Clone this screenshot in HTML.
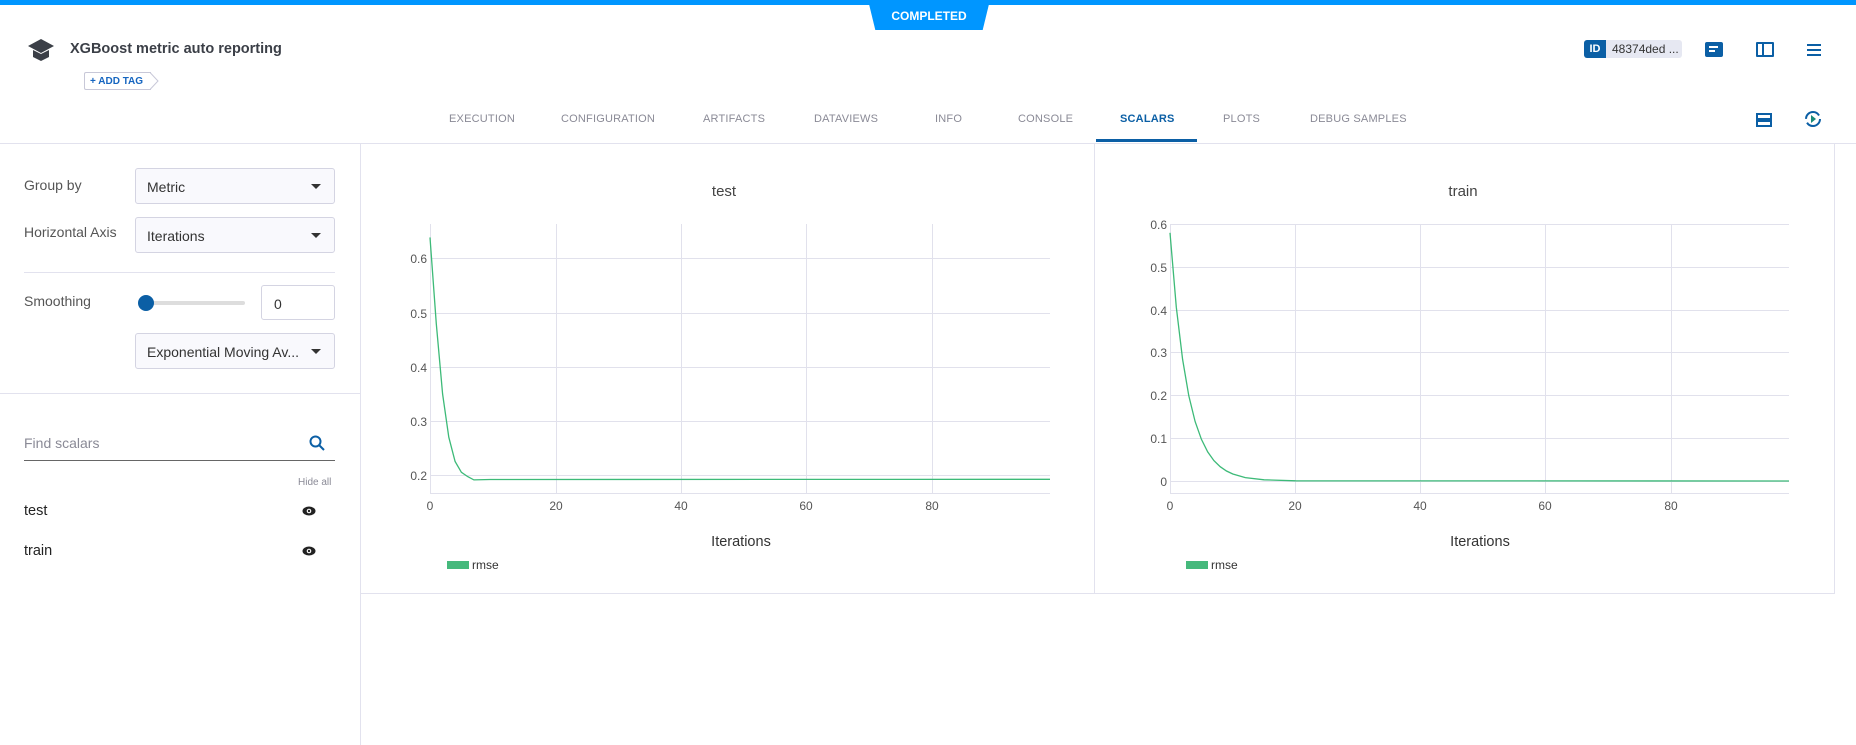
<!DOCTYPE html>
<html><head><meta charset="utf-8"><style>
*{margin:0;padding:0;box-sizing:border-box}
body{width:1856px;height:745px;overflow:hidden;background:#fff;font-family:"Liberation Sans",sans-serif;position:relative;color:#333}
.a{position:absolute}
.tab{position:absolute;top:113px;font-size:11px;color:#8a8a96;letter-spacing:.2px}
.sel{position:absolute;left:135px;width:200px;height:36px;border:1px solid #d4d4e2;border-radius:3px;background:#f9f9fd;font-size:14px;color:#333;padding:10px 0 0 11px}
.sel:after{content:"";position:absolute;right:13px;top:15px;border-left:5px solid transparent;border-right:5px solid transparent;border-top:5px solid #333}
.lbl{position:absolute;left:24px;font-size:14px;color:#555}
</style></head><body>
<div class="a" style="left:0;top:0;width:1856px;height:5px;background:#0096ff"></div>
<div class="a" style="left:868px;top:0;width:122px;height:30px;background:#0096ff;clip-path:polygon(0 0,100% 0,94% 100%,6% 100%);color:#fff;font-size:12px;font-weight:bold;text-align:center;line-height:32px">COMPLETED</div>
<svg class="a" style="left:27px;top:38px" width="28" height="24" viewBox="0 0 28 24"><polygon points="14,1 27,8 14,15 1,8" fill="#3b3f47"/><path d="M6 12 L6 19 L14 23 L22 19 L22 12 L14 16 Z" fill="#3b3f47"/></svg>
<div class="a" style="left:70px;top:41px;font-size:14.5px;font-weight:bold;color:#3b3f47">XGBoost metric auto reporting</div>
<div class="a" style="left:84px;top:72px;width:67px;height:18px;border:1px solid #c8c8d8;border-right:none;border-radius:2px 0 0 2px;font-size:10px;font-weight:bold;color:#1565c0;padding:3px 0 0 5px">+ ADD TAG</div>
<svg class="a" style="left:150px;top:72px" width="9" height="18"><polyline points="0,0.5 8,9 0,17.5" fill="none" stroke="#c8c8d8"/></svg>
<div class="a" style="left:1584px;top:40px;width:98px;height:18px;background:#e6e8f2;border-radius:3px"></div>
<div class="a" style="left:1584px;top:40px;width:22px;height:18px;background:#0b5fa5;border-radius:3px 0 0 3px;color:#fff;font-size:11px;font-weight:bold;text-align:center;line-height:18px">ID</div>
<div class="a" style="left:1612px;top:42px;font-size:12px;color:#333">48374ded ...</div>
<div class="a" style="left:1705px;top:42px;width:18px;height:15px;background:#0b5fa5;border-radius:2px"></div>
<div class="a" style="left:1709px;top:46px;width:9px;height:2px;background:#fff"></div>
<div class="a" style="left:1709px;top:50px;width:6px;height:2px;background:#fff"></div>
<div class="a" style="left:1756px;top:42px;width:18px;height:15px;border:2px solid #0b5fa5;border-radius:1px"></div>
<div class="a" style="left:1762px;top:42px;width:2px;height:15px;background:#0b5fa5"></div>
<div class="a" style="left:1807px;top:44px;width:14px;height:2px;background:#0b5fa5;box-shadow:0 5px 0 #0b5fa5,0 10px 0 #0b5fa5"></div>
<div class="tab" style="left:449px">EXECUTION</div>
<div class="tab" style="left:561px">CONFIGURATION</div>
<div class="tab" style="left:703px">ARTIFACTS</div>
<div class="tab" style="left:814px">DATAVIEWS</div>
<div class="tab" style="left:935px">INFO</div>
<div class="tab" style="left:1018px">CONSOLE</div>
<div class="tab" style="left:1120px;color:#0b5fa5;font-weight:bold">SCALARS</div>
<div class="tab" style="left:1223px">PLOTS</div>
<div class="tab" style="left:1310px">DEBUG SAMPLES</div>
<div class="a" style="left:1096px;top:139px;width:101px;height:3px;background:#0b5fa5"></div>
<div class="a" style="left:1756px;top:113px;width:16px;height:14px;border:2px solid #0b5fa5"></div>
<div class="a" style="left:1756px;top:118px;width:16px;height:4px;border-top:2px solid #0b5fa5;border-bottom:2px solid #0b5fa5"></div>
<svg class="a" style="left:1804px;top:110px" width="18" height="18"><circle cx="9" cy="9" r="7" fill="none" stroke="#0b5fa5" stroke-width="2" stroke-dasharray="18 4"/><polygon points="7,5 12,9 7,13" fill="#1a8a7a"/></svg>
<div class="a" style="left:0;top:143px;width:1856px;height:1px;background:#e2e2ee"></div>
<div class="a" style="left:360px;top:143px;width:1px;height:602px;background:#e2e2ee"></div>
<div class="lbl" style="top:177px">Group by</div>
<div class="sel" style="top:168px">Metric</div>
<div class="lbl" style="top:224px">Horizontal Axis</div>
<div class="sel" style="top:217px">Iterations</div>
<div class="a" style="left:24px;top:272px;width:311px;height:1px;background:#e2e2ee"></div>
<div class="lbl" style="top:293px">Smoothing</div>
<div class="a" style="left:140px;top:301px;width:105px;height:4px;background:#ddd;border-radius:2px"></div>
<div class="a" style="left:138px;top:295px;width:16px;height:16px;background:#0b5fa5;border-radius:50%"></div>
<div class="a" style="left:261px;top:285px;width:74px;height:35px;border:1px solid #d4d4e2;border-radius:3px;font-size:14px;padding:10px 0 0 12px">0</div>
<div class="sel" style="top:333px">Exponential Moving Av...</div>
<div class="a" style="left:0;top:393px;width:360px;height:1px;background:#e2e2ee"></div>
<div class="a" style="left:24px;top:435px;font-size:14px;color:#8a8a96">Find scalars</div>
<svg class="a" style="left:309px;top:435px" width="16" height="16"><circle cx="6.5" cy="6.5" r="5" fill="none" stroke="#0b5fa5" stroke-width="2"/><line x1="10" y1="10" x2="15" y2="15" stroke="#0b5fa5" stroke-width="2"/></svg>
<div class="a" style="left:24px;top:460px;width:311px;height:1px;background:#666"></div>
<div class="a" style="left:298px;top:477px;font-size:10px;color:#8a8a96">Hide all</div>
<div class="a" style="left:24px;top:503px;font-size:14.5px;color:#222">test</div>
<div class="a" style="left:24px;top:543px;font-size:14.5px;color:#222">train</div>
<svg class="a" style="left:302px;top:506px" width="14" height="10"><ellipse cx="7" cy="5" rx="6.5" ry="4.5" fill="#222"/><circle cx="7" cy="5" r="2.3" fill="#fff"/><circle cx="7" cy="5" r="1.2" fill="#222"/></svg>
<svg class="a" style="left:302px;top:546px" width="14" height="10"><ellipse cx="7" cy="5" rx="6.5" ry="4.5" fill="#222"/><circle cx="7" cy="5" r="2.3" fill="#fff"/><circle cx="7" cy="5" r="1.2" fill="#222"/></svg>
<div class="a" style="left:1094px;top:143px;width:1px;height:450px;background:#e2e2ee"></div>
<div class="a" style="left:1834px;top:143px;width:1px;height:450px;background:#e2e2ee"></div>
<div class="a" style="left:361px;top:593px;width:1474px;height:1px;background:#e2e2ee"></div>
<svg class="a" style="left:0;top:0" width="1856" height="745" font-family="Liberation Sans, sans-serif">
<g stroke="#e1e1ec" stroke-width="1">
<line x1="556.5" y1="224" x2="556.5" y2="493"/><line x1="681.5" y1="224" x2="681.5" y2="493"/><line x1="806.5" y1="224" x2="806.5" y2="493"/><line x1="932.5" y1="224" x2="932.5" y2="493"/>
<line x1="430" y1="258.5" x2="1050" y2="258.5"/><line x1="430" y1="313.5" x2="1050" y2="313.5"/><line x1="430" y1="367.5" x2="1050" y2="367.5"/><line x1="430" y1="421.5" x2="1050" y2="421.5"/><line x1="430" y1="475.5" x2="1050" y2="475.5"/>
<line x1="430.5" y1="224" x2="430.5" y2="493"/><line x1="430" y1="493.5" x2="1050" y2="493.5"/>
<line x1="1295.5" y1="224" x2="1295.5" y2="493"/><line x1="1420.5" y1="224" x2="1420.5" y2="493"/><line x1="1545.5" y1="224" x2="1545.5" y2="493"/><line x1="1671.5" y1="224" x2="1671.5" y2="493"/>
<line x1="1170" y1="224.5" x2="1789" y2="224.5"/><line x1="1170" y1="267.5" x2="1789" y2="267.5"/><line x1="1170" y1="310.5" x2="1789" y2="310.5"/><line x1="1170" y1="352.5" x2="1789" y2="352.5"/><line x1="1170" y1="395.5" x2="1789" y2="395.5"/><line x1="1170" y1="438.5" x2="1789" y2="438.5"/><line x1="1170" y1="481.5" x2="1789" y2="481.5"/>
<line x1="1170.5" y1="224" x2="1170.5" y2="493"/><line x1="1170" y1="493.5" x2="1789" y2="493.5"/>
</g>
<polyline fill="none" stroke="#3dba78" stroke-width="1.3" points="430,237.4 436.3,323.8 442.6,394 448.8,437.2 455.1,461.5 461.4,472.3 467.7,476.6 473.9,479.9 490,479.5 1050,479.3"/>
<polyline fill="none" stroke="#3dba78" stroke-width="1.3" points="1170,232.8 1176.3,307.2 1182.6,359.4 1188.8,395.8 1195.1,421.5 1201.4,439.3 1207.7,451.9 1213.9,460.6 1220.2,466.7 1226.5,471 1232.8,474 1245.3,477.6 1264.1,479.8 1295.5,480.8 1789,481"/>
<g font-size="12" fill="#555">
<text x="724" y="196" text-anchor="middle" font-size="15" fill="#444">test</text>
<text x="1463" y="196" text-anchor="middle" font-size="15" fill="#444">train</text>
<g text-anchor="end"><text x="427" y="263">0.6</text><text x="427" y="318">0.5</text><text x="427" y="372">0.4</text><text x="427" y="426">0.3</text><text x="427" y="480">0.2</text>
<text x="1167" y="229">0.6</text><text x="1167" y="272">0.5</text><text x="1167" y="315">0.4</text><text x="1167" y="357">0.3</text><text x="1167" y="400">0.2</text><text x="1167" y="443">0.1</text><text x="1167" y="486">0</text></g>
<g text-anchor="middle"><text x="430" y="510">0</text><text x="556" y="510">20</text><text x="681" y="510">40</text><text x="806" y="510">60</text><text x="932" y="510">80</text>
<text x="1170" y="510">0</text><text x="1295" y="510">20</text><text x="1420" y="510">40</text><text x="1545" y="510">60</text><text x="1671" y="510">80</text></g>
<text x="741" y="546" text-anchor="middle" font-size="14.5" fill="#333">Iterations</text>
<text x="1480" y="546" text-anchor="middle" font-size="14.5" fill="#333">Iterations</text>
</g>
<rect x="447" y="561" width="22" height="8" fill="#45b97c"/><text x="472" y="569" font-size="12" fill="#333">rmse</text>
<rect x="1186" y="561" width="22" height="8" fill="#45b97c"/><text x="1211" y="569" font-size="12" fill="#333">rmse</text>
</svg>
</body></html>
